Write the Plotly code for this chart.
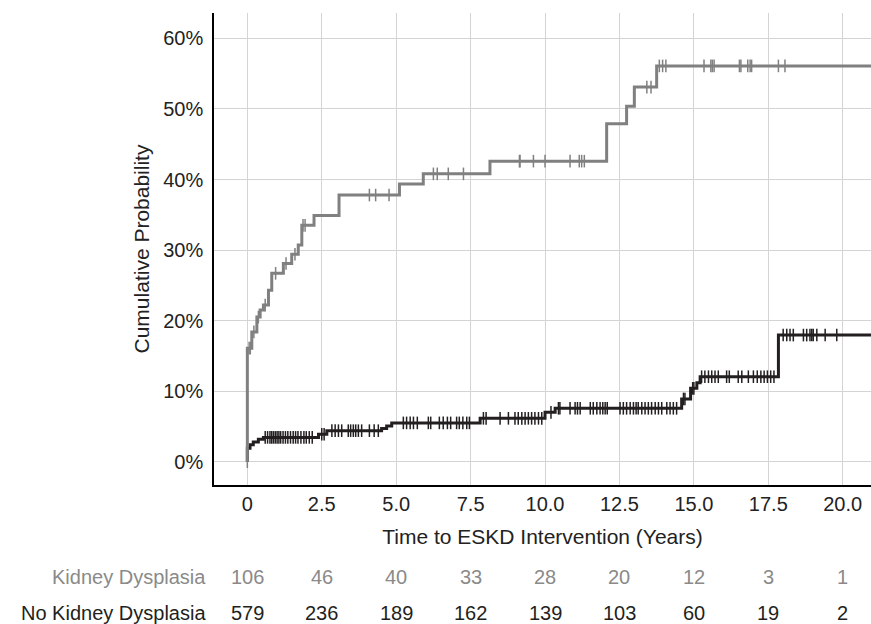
import plotly.graph_objects as go
import numpy as np

# ---------------- data ----------------
# Kidney Dysplasia (grey) cumulative incidence step function
kd_time = [0, 0, 0.15, 0.32, 0.43, 0.54, 0.71, 0.82, 1.21, 1.49, 1.71, 1.83, 2.24, 3.08,
           5.11, 5.91, 8.15, 12.07, 12.74, 13.0, 13.75, 21.0]
kd_prob = [0, 0.161, 0.184, 0.205, 0.215, 0.222, 0.243, 0.267, 0.281, 0.294, 0.307, 0.335, 0.349, 0.378,
           0.3935, 0.408, 0.426, 0.479, 0.504, 0.531, 0.561, 0.561]
kd_censor = [0, 0.06, 0.10, 0.22, 0.37, 0.6, 0.95, 1.3, 1.6, 1.87, 1.94, 4.10, 4.31, 4.76,
             6.25, 6.38, 6.75, 7.26, 9.14, 9.16, 9.61, 10.0, 10.84, 11.15, 11.23, 11.32,
             13.42, 13.56, 13.84, 13.95, 14.06, 15.34, 15.57, 15.62, 15.68, 16.53, 16.58,
             16.81, 16.89, 16.94, 17.84, 18.06]

# No Kidney Dysplasia (black)
nkd_time = [0, 0, 0.09, 0.20, 0.37, 0.54, 2.39, 2.67, 4.51, 4.68, 4.85, 7.82, 10.0, 10.34,
            14.59, 14.89, 15.10, 15.21, 17.84, 21.0]
nkd_prob = [0, 0.019, 0.024, 0.028, 0.032, 0.0345, 0.039, 0.044, 0.047, 0.0505, 0.055, 0.0615,
            0.070, 0.0757, 0.089, 0.104, 0.112, 0.1205, 0.1795, 0.1795]
nkd_censor = [0.6, 0.68, 0.76, 0.82, 0.88, 0.94, 1.0, 1.06, 1.12, 1.2, 1.28, 1.36, 1.45, 1.54,
              1.62, 1.7, 1.8, 1.9, 1.98, 2.08, 2.18, 2.5, 2.58,
              2.84, 2.95, 3.06, 3.17, 3.39, 3.47, 3.56, 3.64, 3.73, 3.84, 4.10, 4.26, 4.40,
              5.24, 5.35, 5.47, 5.58, 5.71, 6.08, 6.16, 6.45, 6.58, 6.72, 6.83, 7.03, 7.12,
              7.24, 7.37, 7.46, 7.93, 8.02, 8.49, 8.77, 8.99, 9.10, 9.22, 9.33, 9.44, 9.55,
              9.66, 9.78, 9.89, 10.2, 10.45, 10.5, 10.84, 11.01, 11.09, 11.18, 11.52, 11.62,
              11.74, 11.85, 11.94, 12.02, 12.09, 12.52, 12.63, 12.74, 12.86, 12.97, 13.06,
              13.13, 13.25, 13.36, 13.47, 13.58, 13.70, 13.81, 13.92, 14.09, 14.20, 14.31,
              14.42, 14.65, 14.70, 14.96, 15.0, 15.26, 15.37, 15.49, 15.60, 15.71, 15.82,
              16.10, 16.19, 16.49, 16.61, 16.83, 17.0, 17.13, 17.25, 17.36, 17.47, 17.58,
              17.69, 18.0, 18.12, 18.23, 18.34, 18.68, 18.79, 18.90, 18.96, 19.01, 19.13,
              19.41, 19.80]

risk_times = [0, 2.5, 5.0, 7.5, 10.0, 12.5, 15.0, 17.5, 20.0]
risk_kd = [106, 46, 40, 33, 28, 20, 12, 3, 1]
risk_nkd = [579, 236, 189, 162, 139, 103, 60, 19, 2]
row_labels = ["Kidney Dysplasia", "No Kidney Dysplasia"]

x_ticks = [0, 2.5, 5.0, 7.5, 10.0, 12.5, 15.0, 17.5, 20.0]
x_ticktext = ["0", "2.5", "5.0", "7.5", "10.0", "12.5", "15.0", "17.5", "20.0"]
y_ticks = [0, 0.1, 0.2, 0.3, 0.4, 0.5, 0.6]
y_ticktext = ["0%", "10%", "20%", "30%", "40%", "50%", "60%"]

GREY = "#808080"
GREY_TXT = "#8a8a8a"
BLACK = "#231f20"
FONT = "Liberation Sans, Arial, Helvetica, sans-serif"


def step_value(times, probs, t):
    # value of right-continuous step function at t (exclude the trailing end point)
    v = probs[0]
    for ti, pi in zip(times[:-1], probs[:-1]):
        if ti <= t:
            v = pi
        else:
            break
    return v


kd_cy = [0.0 if t == 0 else step_value(kd_time, kd_prob, t) for t in kd_censor]
nkd_cy = [step_value(nkd_time, nkd_prob, t) for t in nkd_censor]

fig = go.Figure()
fig.add_trace(go.Scatter(x=nkd_time, y=nkd_prob, mode="lines", line_shape="hv",
                         line=dict(color=BLACK, width=3), showlegend=False))
fig.add_trace(go.Scatter(x=nkd_censor, y=nkd_cy, mode="markers",
                         marker=dict(symbol="line-ns", size=9, line=dict(color=BLACK, width=1.5)),
                         showlegend=False))
fig.add_trace(go.Scatter(x=kd_time, y=kd_prob, mode="lines", line_shape="hv",
                         line=dict(color=GREY, width=3), showlegend=False))
fig.add_trace(go.Scatter(x=kd_censor, y=kd_cy, mode="markers",
                         marker=dict(symbol="line-ns", size=9, line=dict(color=GREY, width=1.5)),
                         showlegend=False))

annotations = []
row_y = [-0.195, -0.271]
row_colors = [GREY_TXT, BLACK]
for lab, yy, col in zip(row_labels, row_y, row_colors):
    annotations.append(dict(text=lab, xref="paper", yref="paper", x=-0.009, y=yy,
                            xanchor="right", yanchor="middle", showarrow=False,
                            font=dict(size=20, color=col, family=FONT)))
for vals, yy, col in zip([risk_kd, risk_nkd], row_y, row_colors):
    for t, v in zip(risk_times, vals):
        annotations.append(dict(text=str(v), xref="x", yref="paper", x=t, y=yy,
                                xanchor="center", yanchor="middle", showarrow=False,
                                font=dict(size=20, color=col, family=FONT)))

fig.update_layout(
    width=871, height=624,
    margin=dict(l=214, r=0, t=13, b=139),
    paper_bgcolor="white", plot_bgcolor="white",
    font=dict(family=FONT, size=20, color="#222222"),
    annotations=annotations,
    xaxis=dict(range=[-1.12, 20.95], tickvals=x_ticks, ticktext=x_ticktext,
               showgrid=True, gridcolor="#d4d4d4", gridwidth=1,
               showline=True, linecolor="black", linewidth=1.5, zeroline=False,
               ticks="", tickfont=dict(size=20, color="#222222"),
               title=dict(text="Time to ESKD Intervention (Years)", font=dict(size=21, color="#222222"),
                          standoff=16)),
    yaxis=dict(range=[-0.033, 0.636], tickvals=y_ticks, ticktext=y_ticktext,
               showgrid=True, gridcolor="#d4d4d4", gridwidth=1,
               showline=True, linecolor="black", linewidth=1.5, zeroline=False,
               ticks="", ticklabelstandoff=5, tickfont=dict(size=20, color="#222222"),
               title=dict(text="Cumulative Probability", font=dict(size=21, color="#222222"),
                          standoff=8)),
)

fig.write_html("out.html")
